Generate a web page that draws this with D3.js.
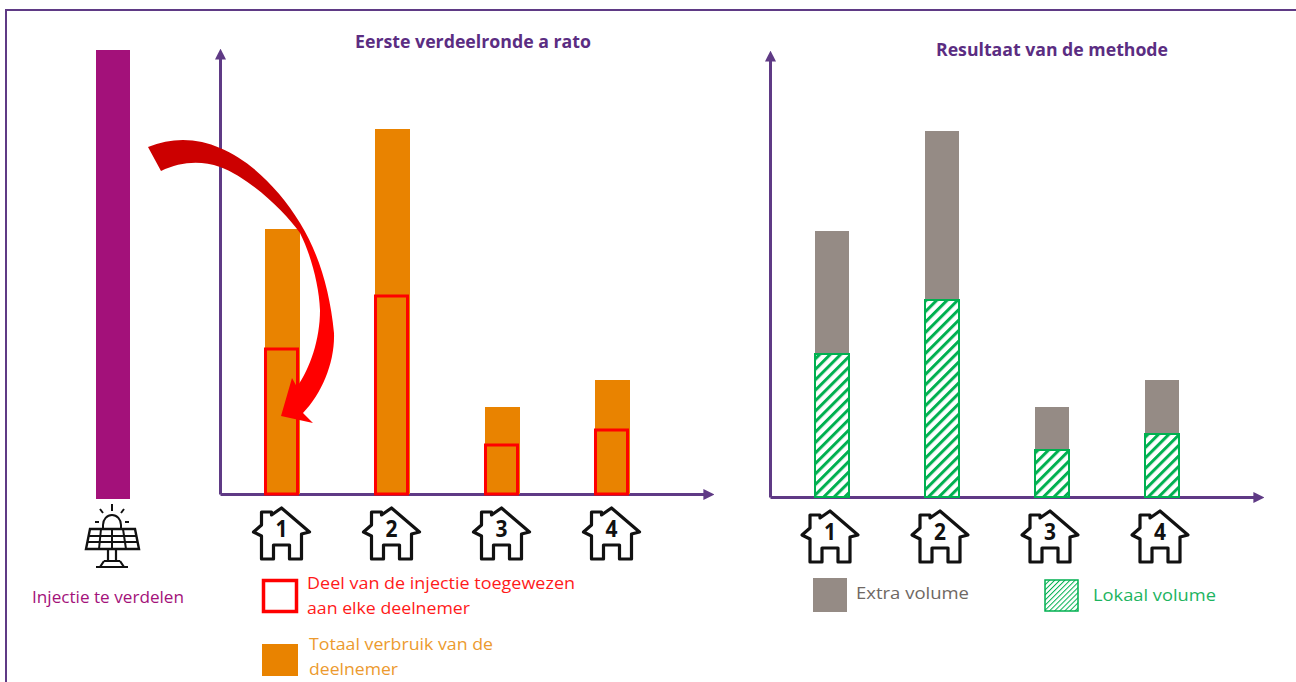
<!DOCTYPE html>
<html>
<head>
<meta charset="utf-8">
<script src="https://d3js.org/d3.v7.min.js"></script>
<style>
html,body{margin:0;padding:0;background:#fff;overflow:hidden}
svg{display:block}
text{font-family:"Open Sans",sans-serif}
</style>
</head>
<body>
<svg id="c" width="1296" height="682"></svg>
<script>
const categories = ["1","2","3","4"];
const injection = [449];
const totalLeft = [265,365,87,114];
const allocated = [145,198,49,64];
const totalRight = [266,366,90,117];
const localVolume = [143,197,47,63];
const titleLeft = "Eerste verdeelronde a rato";
const titleRight = "Resultaat van de methode";

const PURPLE="#5f3a85", ORANGE="#e98300", GREY="#958b85", GREEN="#00b050", MAGENTA="#a3117a", RED="#ff0000";
const svg=d3.select("#c");
const defs=svg.append("defs");

defs.append("marker").attr("id","ah").attr("viewBox","0 0 10 10").attr("refX",1).attr("refY",5)
  .attr("markerWidth",11).attr("markerHeight",11).attr("markerUnits","userSpaceOnUse").attr("orient","auto")
  .append("path").attr("d","M0,0L10,5L0,10Z").attr("fill",PURPLE);

function hatch(id,period,w){
  const p=defs.append("pattern").attr("id",id).attr("patternUnits","userSpaceOnUse")
    .attr("width",period).attr("height",period).attr("patternTransform","rotate(45)");
  p.append("rect").attr("width",period).attr("height",period).attr("fill","#fff");
  p.append("rect").attr("width",w).attr("height",period).attr("fill",GREEN);
}
hatch("hBar",7.4,3);
hatch("hLeg",3.6,1);
const grad=defs.append("linearGradient").attr("id","arrowGrad").attr("gradientUnits","userSpaceOnUse")
  .attr("x1",150).attr("y1",150).attr("x2",330).attr("y2",400);
grad.append("stop").attr("offset","0.42").attr("stop-color","#cc0000");
grad.append("stop").attr("offset","0.58").attr("stop-color","#ff0000");

// frame
svg.append("path").attr("d","M1297,10H6V683").attr("fill","none").attr("stroke",PURPLE).attr("stroke-width",2);

function label(t,x,y,w,fill,opts={}){
  svg.append("text").attr("x",x).attr("y",y).text(t).attr("fill",fill)
    .attr("font-size",opts.size||17).attr("font-weight",opts.weight||400)
    .attr("textLength",w).attr("lengthAdjust","spacingAndGlyphs");
}

function house(x,yTop,n){
  const g=svg.append("g").attr("transform",`translate(${x},${yTop})`);
  g.append("path").attr("d","M0,1L28,25L20,27V52H8V38H-8V52H-20V29L-28,25L-20,18V5H-10V8Z")
    .attr("fill","#fff").attr("stroke","#111").attr("stroke-width",3.2).attr("stroke-linejoin","round");
  g.append("text").attr("x",0).attr("y",30).attr("text-anchor","middle")
    .attr("font-size",23).attr("font-weight",700).attr("fill","#111")
    .attr("textLength",12).attr("lengthAdjust","spacingAndGlyphs").text(n);
}

function panel(opts){
  const y=d3.scaleLinear().domain([0,444]).range([opts.base,opts.base-444]);
  const x=d3.scalePoint().domain(categories).range(opts.range);
  const g=svg.append("g");
  const ax=g.append("g").attr("transform",`translate(0,${opts.base})`)
    .call(d3.axisBottom(d3.scaleLinear().domain([0,1]).range([opts.x0,opts.x1])).tickValues([]).tickSizeOuter(0));
  ax.select("path.domain").attr("stroke",PURPLE).attr("stroke-width",3).attr("marker-end","url(#ah)");
  const ay=g.append("g").attr("transform",`translate(${opts.x0},0)`)
    .call(d3.axisLeft(d3.scaleLinear().domain([0,1]).range([opts.base,opts.yEnd])).tickValues([]).tickSizeOuter(0));
  ay.select("path.domain").attr("stroke",PURPLE).attr("stroke-width",3).attr("marker-end","url(#ah)");
  return {g,x,y,bw:opts.bw};
}

// injection bar
const yInj=d3.scaleLinear().domain([0,449]).range([499,50]);
svg.selectAll("rect.inj").data(injection).join("rect").attr("class","inj")
  .attr("x",96).attr("width",34).attr("y",d=>yInj(d)).attr("height",d=>yInj(0)-yInj(d)).attr("fill",MAGENTA);

// left panel
const L=panel({base:494,range:[282.5,612.5],bw:35,x0:220,x1:704,yEnd:58});
L.g.selectAll("rect.tot").data(totalLeft).join("rect").attr("class","tot")
  .attr("x",(d,i)=>L.x(categories[i])-L.bw/2).attr("width",L.bw)
  .attr("y",d=>L.y(d)).attr("height",d=>L.y(0)-L.y(d)).attr("fill",ORANGE);
L.g.selectAll("rect.alloc").data(allocated).join("rect").attr("class","alloc")
  .attr("x",(d,i)=>L.x(categories[i])-L.bw/2+.5).attr("width",L.bw-3)
  .attr("y",d=>L.y(d)).attr("height",d=>L.y(0)-L.y(d)).attr("fill","none")
  .attr("stroke",RED).attr("stroke-width",3);

// right panel
const R=panel({base:497,range:[832,1162],bw:34,x0:770,x1:1254,yEnd:60});
R.g.selectAll("rect.tot").data(totalRight).join("rect").attr("class","tot")
  .attr("x",(d,i)=>R.x(categories[i])-R.bw/2).attr("width",R.bw)
  .attr("y",d=>R.y(d)).attr("height",d=>R.y(0)-R.y(d)).attr("fill",GREY);
R.g.selectAll("rect.loc").data(localVolume).join("rect").attr("class","loc")
  .attr("x",(d,i)=>R.x(categories[i])-R.bw/2).attr("width",R.bw)
  .attr("y",d=>R.y(d)).attr("height",d=>R.y(0)-R.y(d)).attr("fill","url(#hBar)")
  .attr("stroke",GREEN).attr("stroke-width",2);

// curved red arrow
svg.append("path").attr("d",
 "M148,147C172,137 198,138 220,148C250,160 280,190 300,223C318,252 330,290 334,333C335,362 322,393 303,413"+
 "L313,423L281,416L292,378L297,387C310,368 320,340 320,310C319,285 311,255 300,233C285,212 250,178 220,167C200,160 180,162 161,171Z")
 .attr("fill","url(#arrowGrad)");

categories.forEach(c=>{ house(L.x(c)-1,507,c); house(R.x(c)-2,510,c); });

// solar icon
(function(){
  const g=svg.append("g").attr("fill","none").attr("stroke","#111").attr("stroke-width",2);
  g.append("path").attr("d","M103,528V525A9,10 0 0 1 121,525V528");
  g.append("path").attr("d","M112,504V511M100,509L103,513M124,509L121,513M95,522H99M125,522H129");
  g.append("path").attr("d","M90,529H135L139,549H86Z").attr("stroke-width",2.4);
  g.append("path").attr("d","M88,536H137M87,542H138M101,529L99,549M112,529V549M123,529L126,549");
  g.append("path").attr("d","M108,550V561M116,550V561M104,561H120M96,567H128M100,567L104,561M124,567L120,561").attr("stroke-width",2.2);
})();

label(titleLeft,355,48,236,"#5b2d82",{weight:700,size:17});
label(titleRight,936,56,232,"#5b2d82",{weight:700,size:17});
label("Injectie te verdelen",32,603,152,"#a3117a");
svg.append("rect").attr("x",263.5).attr("y",580.5).attr("width",33).attr("height",31).attr("fill","#fff").attr("stroke",RED).attr("stroke-width",3.5);
label("Deel van de injectie toegewezen",307,589,268,"#ff1a1a");
label("aan elke deelnemer",307,614,163,"#ff1a1a");
svg.append("rect").attr("x",262).attr("y",644).attr("width",36).attr("height",32).attr("fill",ORANGE);
label("Totaal verbruik van de",309,650,184,"#ec9a2e");
label("deelnemer",309,675,89,"#ec9a2e");
svg.append("rect").attr("x",813).attr("y",578).attr("width",34).attr("height",34).attr("fill",GREY);
label("Extra volume",856,599,113,"#6f6863");
svg.append("rect").attr("x",1045).attr("y",580).attr("width",33).attr("height",31).attr("fill","url(#hLeg)").attr("stroke",GREEN).attr("stroke-width",1.5);
label("Lokaal volume",1093,601,123,"#1db45f");
</script>
</body>
</html>
